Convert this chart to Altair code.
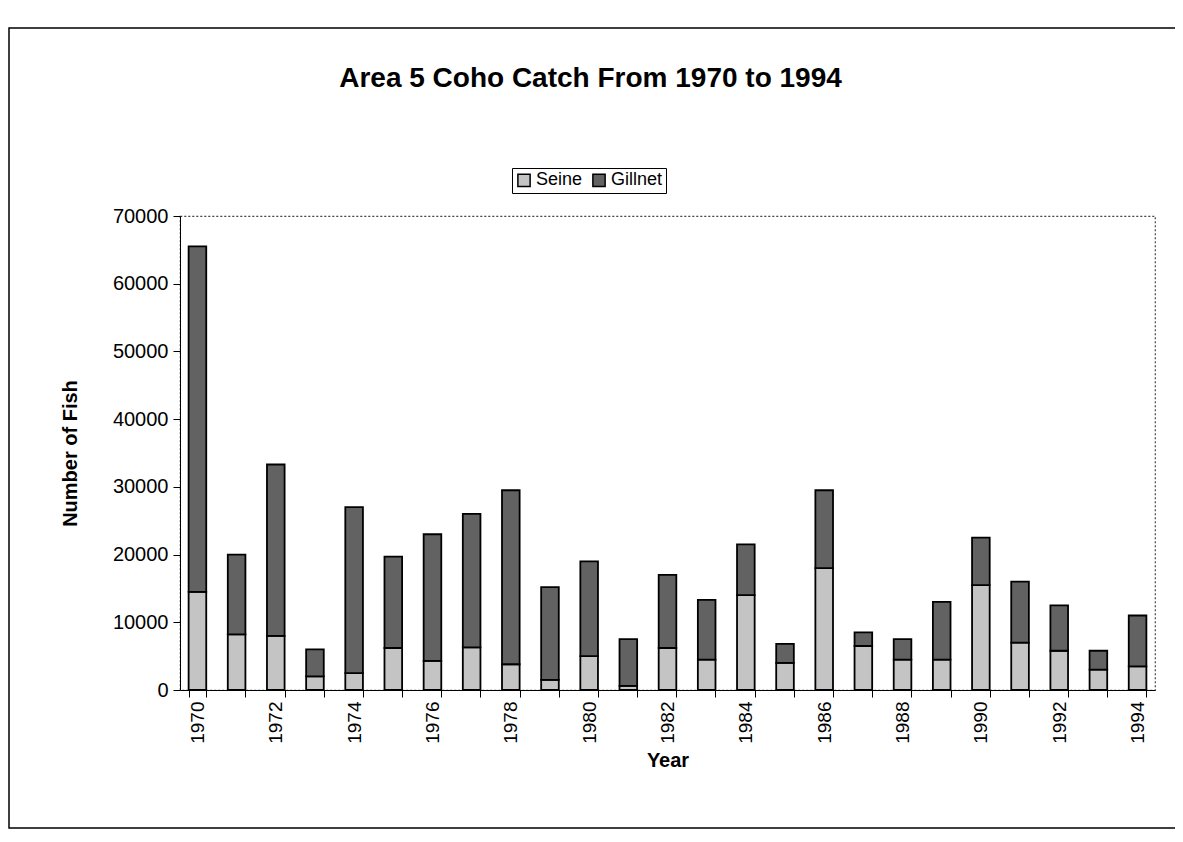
import altair as alt
import pandas as pd

years = list(range(1970, 1995))
totals = [65500, 20000, 33300, 6000, 27000, 19700, 23000, 26000, 29500, 15200,
          19000, 7500, 17000, 13300, 21500, 6800, 29500, 8500, 7500, 13000,
          22500, 16000, 12500, 5800, 11000]
seine = [14500, 8200, 8000, 2000, 2500, 6200, 4300, 6300, 3800, 1500,
         5000, 600, 6200, 4500, 14000, 4000, 18000, 6500, 4500, 4500,
         15500, 7000, 5800, 3000, 3500]
gillnet = [t - s for t, s in zip(totals, seine)]

gear_names = ["Seine", "Gillnet"]
gear_colors = ["#c4c4c4", "#626262"]

rows = []
for y, s, g in zip(years, seine, gillnet):
    rows.append({"Year": y, "Gear": "Seine", "Fish": s, "ord": 0})
    rows.append({"Year": y, "Gear": "Gillnet", "Fish": g, "ord": 1})
df = pd.DataFrame(rows)

FONT = "Liberation Sans"

bars = alt.Chart(df).mark_bar(stroke="black", strokeWidth=1.8).encode(
    x=alt.X("Year:O",
            scale=alt.Scale(paddingInner=0.55, paddingOuter=0.22),
            axis=alt.Axis(title="Year", labelAngle=270, labelAlign="right",
                          labelBaseline="middle",
                          labelExpr="datum.value % 2 == 0 ? datum.label : ''",
                          tickBand="extent", tickSize=7, labelPadding=4,
                          labelFontSize=19, titleFontSize=20, titleFontWeight="bold",
                          titlePadding=7, domainColor="black", tickColor="black",
                          labelColor="black", titleColor="black", labelFont=FONT,
                          titleFont=FONT)),
    y=alt.Y("Fish:Q", stack="zero",
            scale=alt.Scale(domain=[0, 70000], nice=False),
            axis=alt.Axis(title="Number of Fish", values=list(range(0, 70001, 10000)),
                          format="d", grid=False, tickSize=7, labelPadding=5,
                          labelFontSize=20, titleFontSize=20, titleFontWeight="bold",
                          titlePadding=32, domainColor="black", tickColor="black",
                          labelColor="black", titleColor="black", labelFont=FONT,
                          titleFont=FONT)),
    color=alt.Color("Gear:N",
                    scale=alt.Scale(domain=gear_names, range=gear_colors),
                    legend=alt.Legend(title=None, orient="none", legendX=332, legendY=-48,
                                      direction="horizontal", strokeColor="black",
                                      padding=3, labelFontSize=18, labelFont=FONT,
                                      labelColor="black", symbolType="square",
                                      symbolSize=150, symbolStrokeColor="black",
                                      symbolStrokeWidth=1.5, symbolOpacity=1,
                                      columnPadding=6, labelOffset=3)),
    order=alt.Order("ord:Q", sort="ascending"),
)

frame = alt.Chart(alt.Data(values=[{"a": 1}])).mark_rect(
    fill=None, stroke="black", strokeWidth=1.5
).encode(
    x=alt.value(-171), x2=alt.value(1200),
    y=alt.value(-188), y2=alt.value(612),
)

chart = alt.layer(frame, bars).properties(
    width=975, height=474,
    title=alt.TitleParams("Area 5 Coho Catch From 1970 to 1994", fontSize=28,
                          fontWeight="bold", font=FONT, color="black",
                          anchor="middle", dx=-77, offset=0, dy=66),
    autosize=alt.AutoSizeParams(type="none"),
    padding={"left": 172, "top": 208, "right": 20, "bottom": 140},
).configure_view(stroke="#444", strokeDash=[2, 2], strokeWidth=1.2)

chart.save("out.html", embed_options={"renderer": "svg", "actions": False})
